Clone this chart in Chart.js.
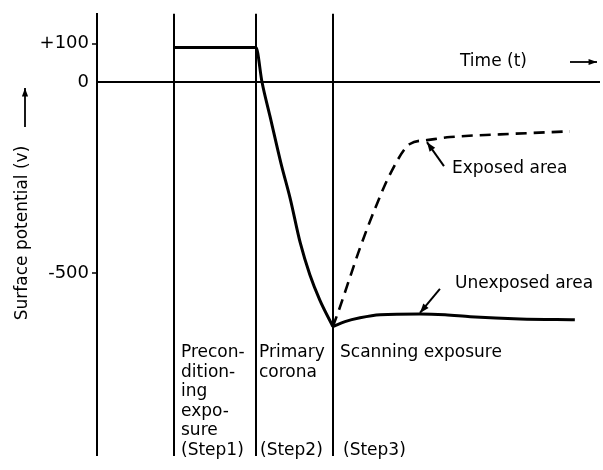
<!DOCTYPE html>
<html>
<head>
<meta charset="utf-8">
<script src="https://cdn.jsdelivr.net/npm/chart.js@4"></script>
<style>
  html,body{margin:0;padding:0;background:#fff;}
  #wrap{width:603px;height:470px;position:relative;}
</style>
</head>
<body>
<div id="wrap"><canvas id="potChart"></canvas></div>
<script>
// time in arbitrary units (0..100), potential in volts
const stepBounds = [15.3, 31.6, 46.9];
const yTicks = [100, 0, -500];
const yTickLabels = ['+100', '0', '-500'];

const chargeT = [15.3, 31.6, 32.8, 34.4, 36.6, 38.4, 40.4, 42.3, 44.3, 46.9];
const chargeV = [90, 90, 0, -90, -214, -304, -420, -503, -570, -639];

const exposedT = [46.9, 48.3, 50.3, 52.3, 55.3, 58.3, 62.2, 65.6, 70.2, 80.1, 94.0];
const exposedV = [-639, -588, -510, -433, -330, -240, -162, -152, -144, -137, -129];

const unexposedT = [46.9, 49.3, 52.3, 56.3, 64.2, 69.2, 74.2, 84.1, 95.0];
const unexposedV = [-639, -626, -616, -608, -606, -608, -613, -619, -621];

const pts = (xs, ys) => xs.map((x, i) => ({x: x, y: ys[i]}));
const FONT = '17px "DejaVu Sans"';

function arrow(ctx, x1, y1, x2, y2, head){
  const a = Math.atan2(y2 - y1, x2 - x1);
  ctx.beginPath(); ctx.moveTo(x1, y1); ctx.lineTo(x2, y2); ctx.stroke();
  ctx.beginPath();
  ctx.moveTo(x2, y2);
  ctx.lineTo(x2 - head * Math.cos(a - 0.35), y2 - head * Math.sin(a - 0.35));
  ctx.lineTo(x2 - head * Math.cos(a + 0.35), y2 - head * Math.sin(a + 0.35));
  ctx.closePath(); ctx.fill();
}

const labelsPlugin = {
  id: 'labels',
  afterDraw(chart){
    const ctx = chart.ctx, xs = chart.scales.x, ys = chart.scales.y;
    ctx.save();
    ctx.fillStyle = '#000'; ctx.strokeStyle = '#000';
    ctx.font = FONT; ctx.textBaseline = 'alphabetic'; ctx.textAlign = 'left';

    // y title + arrow
    ctx.save();
    ctx.translate(27, 233); ctx.rotate(-Math.PI / 2);
    ctx.textAlign = 'center';
    ctx.fillText('Surface potential (v)', 0, 0);
    ctx.restore();
    ctx.lineWidth = 1.8;
    arrow(ctx, 25, 127, 25, 88, 9);

    // time label + arrow
    ctx.fillText('Time (t)', 460, 66);
    arrow(ctx, 570, 62, 597, 62, 9);

    // step captions
    const s1 = ['Precon-', 'dition-', 'ing', 'expo-', 'sure', '(Step1)'];
    s1.forEach((t, i) => ctx.fillText(t, 181, 357 + i * 19.5));
    ctx.fillText('Primary', 259, 357);
    ctx.fillText('corona', 259, 376.5);
    ctx.fillText('Scanning exposure', 340, 357);
    ctx.fillText('(Step2)', 260, 455);
    ctx.fillText('(Step3)', 343, 455);

    // curve annotations
    ctx.fillText('Exposed area', 452, 173);
    ctx.fillText('Unexposed area', 455, 288);
    ctx.lineWidth = 2;
    const ex = xs.getPixelForValue(exposedT[7]), ey = ys.getPixelForValue(exposedV[7]);
    arrow(ctx, ex + 17, ey + 26, ex, ey + 2, 10);
    const ux = xs.getPixelForValue(unexposedT[4]), uy = ys.getPixelForValue(unexposedV[4]);
    arrow(ctx, ux + 20, uy - 25, ux, uy - 1, 10);
    ctx.restore();
  }
};

new Chart(document.getElementById('potChart').getContext('2d'), {
  type: 'scatter',
  data: {
    datasets: [
      {label: 'Steps 1-2', data: pts(chargeT, chargeV), showLine: true, borderColor: '#000', borderWidth: 3, pointRadius: 0, cubicInterpolationMode: 'monotone'},
      {label: 'Exposed area', data: pts(exposedT, exposedV), showLine: true, borderColor: '#000', borderWidth: 2.6, borderDash: [11, 7], pointRadius: 0, cubicInterpolationMode: 'monotone'},
      {label: 'Unexposed area', data: pts(unexposedT, unexposedV), showLine: true, borderColor: '#000', borderWidth: 3, pointRadius: 0, cubicInterpolationMode: 'monotone'}
    ]
  },
  options: {
    responsive: true, maintainAspectRatio: false, animation: false,
    layout: {padding: {top: 8, right: 3, left: 0, bottom: 0}},
    plugins: {legend: {display: false}, tooltip: {enabled: false}},
    scales: {
      x: {
        type: 'linear', min: 0, max: 100,
        afterBuildTicks: s => { s.ticks = stepBounds.map(v => ({value: v})); },
        afterFit: s => { s.height = 14; },
        ticks: {display: false},
        border: {display: false},
        grid: {color: '#000', lineWidth: 2, drawTicks: false}
      },
      y: {
        min: -977, max: 178,
        afterBuildTicks: s => { s.ticks = yTicks.map(v => ({value: v})); },
        afterFit: s => { s.width = 97; },
        ticks: {
          color: '#000', font: {family: 'DejaVu Sans', size: 18}, padding: 3,
          callback: v => yTickLabels[yTicks.indexOf(v)]
        },
        border: {display: true, color: '#000', width: 2},
        grid: {
          color: '#000', tickLength: 5, tickWidth: 1.5,
          lineWidth: c => (c.tick && c.tick.value === 0 ? 2 : 0),
          tickColor: c => (c.tick && c.tick.value === 0 ? 'rgba(0,0,0,0)' : '#000')
        }
      }
    }
  },
  plugins: [labelsPlugin]
});
</script>
</body>
</html>
